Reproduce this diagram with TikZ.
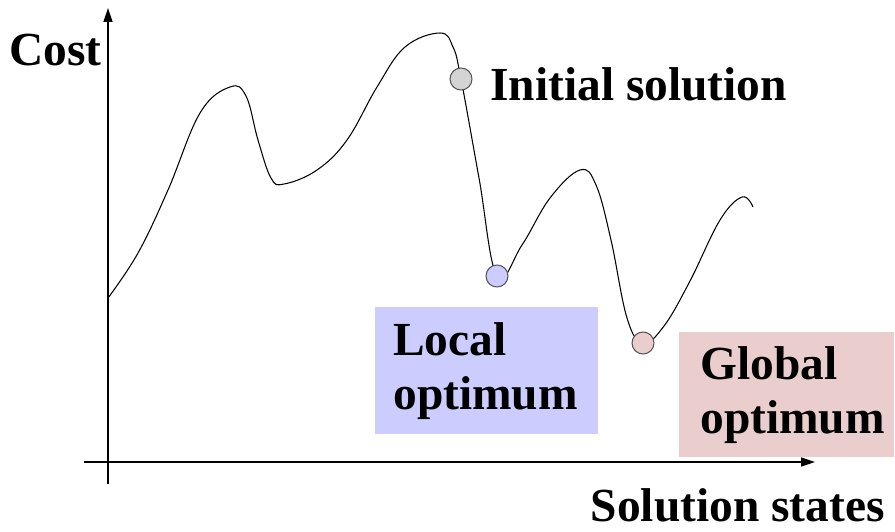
\documentclass[tikz,border=0pt]{standalone}
\usepackage{fontspec}
\setmainfont{Liberation Serif}
\usetikzlibrary{positioning, arrows.meta}
\definecolor{initgray}{RGB}{212,212,212}
\definecolor{localblue}{RGB}{204,204,255}
\definecolor{globalpink}{RGB}{234,206,206}
\definecolor{dotline}{RGB}{85,85,85}

\begin{document}
\begin{tikzpicture}[
    x={(0.02cm,0)}, y={(0,-0.02cm)},
    lbl/.style={font=\bfseries\fontsize{27}{31}\selectfont, inner sep=0pt},
    box/.style={lbl, rectangle, align=left, anchor=north west},
    dot/.style={draw=dotline, circle, minimum size=0.44cm, inner sep=0pt, line width=0.6pt},
    axis/.style={-{Triangle[length=0.28cm, width=0.18cm]}, line width=0.9pt},
    curve/.style={line width=0.6pt}
]
    \useasboundingbox (0,0) rectangle (895,531);

    % axes
    \coordinate (xstart) at (84,462);
    \coordinate (xend) at (815,462);
    \coordinate (ystart) at (108,484);
    \coordinate (yend) at (108,8);
    \draw[axis] (xstart) -- (xend);
    \draw[axis] (ystart) -- (yend);

    % labels on the axes
    \node[lbl, anchor=base east] (cost) at (102,65) {Cost};
    \node[lbl, anchor=base east] (states) at (885,521) {Solution states};

    % the cost landscape
    \draw[curve] plot[smooth, tension=0.65] coordinates {
        (108,298) (138,253) (168,190) (200,113) (230,87)
        (246,96) (258,140) (271,178) (284,184) (317,170) (347,140)
        (377,87) (405,47) (440,33) (453,47) (461,79)
        (479,178) (497,276) (522,245) (550,198) (580,170)
        (596,185) (611,240) (627,318) (643,343) (664,326) (690,281)
        (720,220) (742,197) (753,207)};

    % solutions on the curve
    \node[dot, fill=initgray] (init) at (461,79) {};
    \node[dot, fill=localblue] (local) at (497,276) {};
    \node[dot, fill=globalpink] (global) at (643,343) {};

    % boxes and texts
    \node[lbl, anchor=base west] (initlbl) at (490,100) {Initial solution};
    \node[box, fill=localblue, text width=3.74cm, inner xsep=0.36cm,
          minimum height=2.54cm] (locallbl) at (375,307) {Local\\optimum};
    \node[box, fill=globalpink, text width=3.46cm, inner xsep=0.42cm,
          minimum height=2.5cm] (globallbl) at (679,332) {Global\\optimum};
\end{tikzpicture}
\end{document}
